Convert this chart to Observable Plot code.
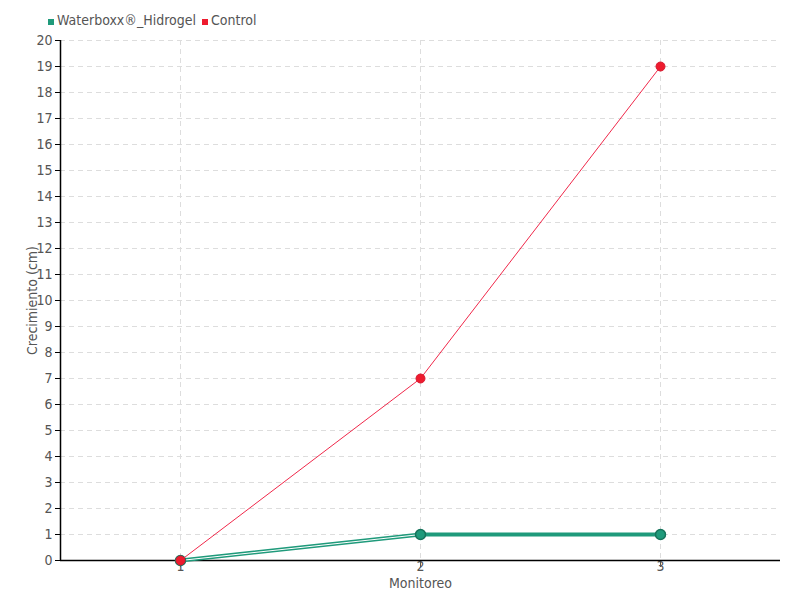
<!DOCTYPE html>
<html><head><meta charset="utf-8">
<script src="https://cdn.jsdelivr.net/npm/d3@7"></script>
<script src="https://cdn.jsdelivr.net/npm/@observablehq/plot@0.6"></script>
<style>
body{margin:0;background:#fff;font-family:"DejaVu Sans Condensed","DejaVu Sans",sans-serif;font-stretch:condensed;}
#wrap{position:relative;width:800px;height:600px;}
#legend{position:absolute;left:48px;top:12px;font-size:14px;color:#555;display:flex;gap:6px;align-items:center;font-stretch:condensed;}
#legend span.sw{display:inline-block;width:6px;height:6px;margin-right:3px;}
svg text{font-stretch:condensed;}
</style></head><body>
<div id="wrap"><div id="legend"></div><div id="chart"></div></div>
<script>
const monitoreo = [1, 2, 3];
const waterboxx = [0, 1, 1];
const control = [0, 7, 19];
const seriesNames = ["Waterboxx®_Hidrogel", "Control"];
const colors = ["#1f9a7b", "#ee1b2e"];
const yTicks = d3.range(0, 21);

const wData = monitoreo.map((m, i) => ({x: m, y: waterboxx[i]}));
const cData = monitoreo.map((m, i) => ({x: m, y: control[i]}));

const legend = document.getElementById("legend");
seriesNames.forEach((n, i) => {
  const d = document.createElement("div");
  d.innerHTML = `<span class="sw" style="background:${colors[i]}"></span>${n}`;
  legend.appendChild(d);
});

const chart = Plot.plot({
  width: 800, height: 600,
  marginTop: 40, marginBottom: 40, marginLeft: 60, marginRight: 20,
  style: {fontFamily: '"DejaVu Sans Condensed","DejaVu Sans",sans-serif', fontSize: "14px", color: "#555"},
  x: {domain: [0.5, 3.5], label: null},
  y: {domain: [0, 20], label: null},
  marks: [
    Plot.gridY(yTicks, {stroke: "#ddd", strokeOpacity: 1, strokeDasharray: "5,4"}),
    Plot.gridX(monitoreo, {stroke: "#ddd", strokeOpacity: 1, strokeDasharray: "5,4"}),
    Plot.axisY({ticks: yTicks, tickFormat: d => String(d), tickSize: 5, tickPadding: 3, stroke: "#000", fill: "#555", label: null}),
    Plot.axisX({ticks: monitoreo, tickFormat: d => String(d), tickSize: 7, tickPadding: -6, stroke: "#555", fill: "#555", label: null}),
    Plot.ruleY([0], {stroke: "#000", strokeWidth: 1.5}),
    Plot.ruleX([0.5], {stroke: "#000", strokeWidth: 1.5}),
    Plot.line(wData, {x: "x", y: "y", stroke: colors[0], strokeWidth: 4}),
    Plot.line(wData.slice(0, 2), {x: "x", y: "y", stroke: "#fff", strokeWidth: 1}),
    Plot.dot(wData, {x: "x", y: "y", r: 5, fill: colors[0], stroke: "#16735b", strokeWidth: 1.5}),
    Plot.line(cData, {x: "x", y: "y", stroke: "#f0284a", strokeWidth: 1}),
    Plot.dot(cData, {x: "x", y: "y", r: 4.5, fill: colors[1], stroke: "#d81a30", strokeWidth: 1}),
    Plot.text(["Monitoreo"], {frameAnchor: "bottom", dy: 27, fill: "#555", fontSize: 14}),
    Plot.text(["Crecimiento (cm)"], {frameAnchor: "left", textAnchor: "middle", dx: -28, rotate: -90, fill: "#555", fontSize: 14})
  ]
});
document.getElementById("chart").appendChild(chart);
</script>
</body></html>
